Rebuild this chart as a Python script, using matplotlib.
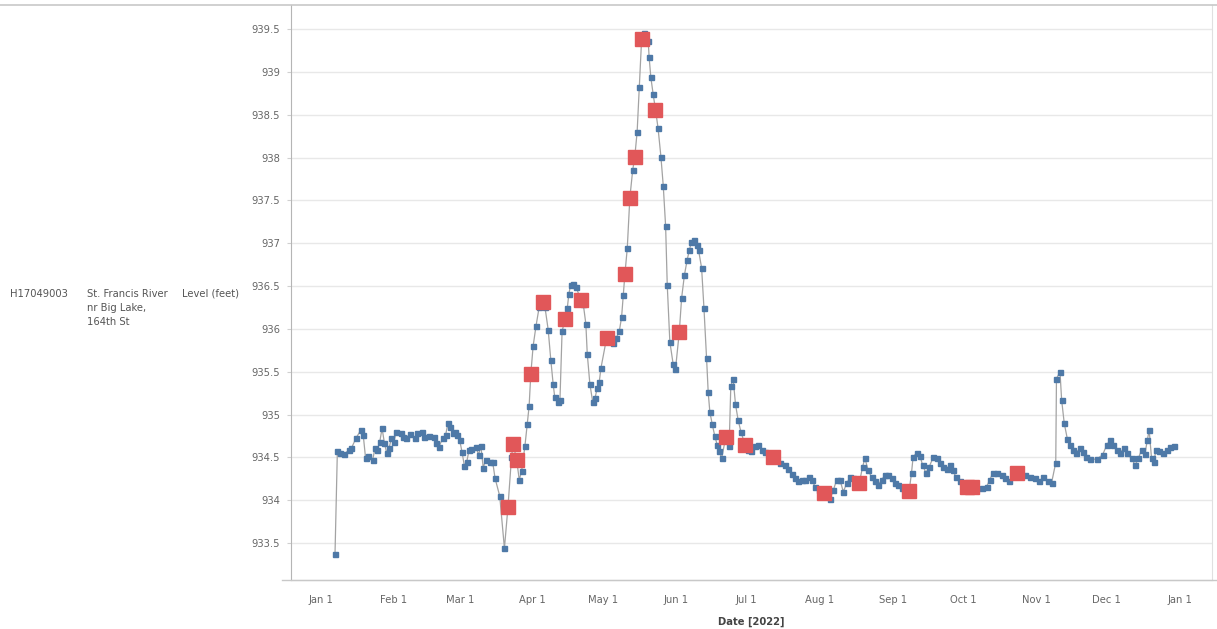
import datetime as dt
import matplotlib
matplotlib.use("Agg")
import matplotlib.pyplot as plt
import matplotlib.dates as mdates
from matplotlib.lines import Line2D
import numpy as np

plt.rcParams['font.family'] = ['DejaVu Sans']

# ---- data (day offset from 2022-01-01, level in feet) ----
level_days = [6, 7, 8, 10, 12, 13, 15, 17, 18, 19, 20, 22, 23, 24, 25, 26, 27, 28, 29, 30, 31,
              32, 34, 35, 36, 38, 40, 41, 43, 44, 46, 48, 49, 50, 52, 53, 54, 55, 56, 57, 58, 59,
              60, 61, 62, 63, 64, 66, 67, 68, 69, 70, 72, 73, 74, 76, 78,
              81, 84.3, 85.3, 86.7, 87.7, 88.5, 90.2, 91.4, 92.8, 95.2, 96.6, 97.7, 98.7, 99.4,
              100.8, 101.6, 102.5, 104.7, 105.4, 106.1, 107.2, 108.4, 111.5, 112.6, 113.2, 114.3,
              115.5, 116.5, 117.4, 118.3, 119.0, 124.0, 125.4, 126.8, 127.8, 128.5, 130.2, 132.5,
              134.4, 135.3, 137.3, 139.1, 139.5, 140.2, 141.2, 143.3, 144.5, 145.5, 146.5, 147.2,
              148.3, 149.7, 150.7, 153.3, 154.5, 155.7, 156.6, 157.5, 158.7, 159.7, 160.5, 161.8,
              162.8, 163.9, 164.6, 165.3, 166.3, 167.4, 168.4, 169.3, 170.3, 173.5, 174.2, 175.2,
              176.2, 177.3, 178.5, 181.6, 182.7, 184.4, 185.8, 187.3, 188.8, 190.4, 195.1, 197.2,
              198.6, 200.0, 201.4, 202.9, 204.3, 205.7, 207.5, 208.6, 210.0, 211.8, 215.0, 216.4,
              217.8, 219.2, 220.6, 222.0, 223.5, 224.9, 226.3, 230.2, 231.2, 232.6, 234.0, 235.4,
              236.8, 238.3, 239.7, 241.1, 242.5, 243.9, 245.3, 246.8, 248.4, 251.0, 251.7, 253.2,
              254.6, 255.7, 257.1, 258.5, 260.2, 261.7, 263.1, 264.5, 265.9, 267.3, 268.5, 269.9,
              271.6, 278.5, 280.8, 282.9, 284.3, 285.5, 287.2, 289.3, 290.7, 292.5, 299.2, 301.3,
              303.4, 305.3, 307.0, 309.1, 310.5, 312.3, 312.6, 314.1, 314.8, 315.9, 317.2, 318.3,
              319.5, 320.9, 322.6, 323.7, 325.1, 326.8, 329.7, 332.2, 333.9, 335.3, 336.7, 338.2,
              339.6, 341.3, 342.4, 344.5, 346.0, 347.4, 348.8, 350.2, 351.2, 352.0, 353.0, 354.0,
              354.9, 356.3, 358.0, 359.5, 360.9, 362.6]
level_vals = [933.37, 934.57, 934.55, 934.54, 934.59, 934.61, 934.73, 934.82, 934.76, 934.49, 934.52,
              934.47, 934.61, 934.59, 934.68, 934.84, 934.67, 934.55, 934.61, 934.73, 934.68,
              934.80, 934.79, 934.74, 934.73, 934.77, 934.73, 934.79, 934.80, 934.74, 934.75,
              934.74, 934.67, 934.62, 934.73, 934.76, 934.90, 934.86, 934.79, 934.80, 934.76,
              934.70, 934.56, 934.40, 934.45, 934.59, 934.60, 934.62, 934.53, 934.63, 934.38,
              934.47, 934.45, 934.45, 934.26, 934.05, 933.44,
              934.50, 934.24, 934.34, 934.63, 934.89, 935.10, 935.80, 936.03, 936.26, 936.26,
              935.99, 935.64, 935.36, 935.20, 935.15, 935.17, 935.97, 936.24, 936.41, 936.51,
              936.53, 936.49, 936.29, 936.06, 935.71, 935.36, 935.15, 935.19, 935.31, 935.38,
              935.54, 935.84, 935.89, 935.97, 936.14, 936.39, 936.94, 937.85, 938.30, 938.82,
              939.45, 939.36, 939.17, 938.94, 938.74, 938.34, 938.01, 937.67, 937.20, 936.51,
              935.85, 935.59, 935.53, 936.36, 936.63, 936.81, 936.92, 937.02, 937.04, 936.98,
              936.92, 936.71, 936.24, 935.66, 935.26, 935.03, 934.89, 934.75, 934.65, 934.57,
              934.49, 934.63, 935.33, 935.42, 935.12, 934.94, 934.80, 934.59, 934.57, 934.63,
              934.65, 934.59, 934.56, 934.53, 934.43, 934.41, 934.37, 934.31, 934.26, 934.22,
              934.24, 934.24, 934.27, 934.24, 934.16, 934.12, 934.06, 934.02, 934.12, 934.24,
              934.24, 934.10, 934.20, 934.27, 934.26, 934.39, 934.49, 934.35, 934.27, 934.22,
              934.18, 934.24, 934.29, 934.29, 934.26, 934.20, 934.18, 934.14, 934.13, 934.32,
              934.51, 934.55, 934.52, 934.41, 934.32, 934.39, 934.50, 934.49, 934.43, 934.39,
              934.37, 934.41, 934.35, 934.27, 934.22, 934.13, 934.14, 934.16, 934.24, 934.32,
              934.32, 934.29, 934.26, 934.23, 934.29, 934.27, 934.26, 934.22, 934.27, 934.22,
              934.20, 934.44, 935.42, 935.50, 935.17, 934.90, 934.72, 934.64, 934.59, 934.55,
              934.61, 934.56, 934.50, 934.48, 934.48, 934.53, 934.64, 934.70, 934.64, 934.59,
              934.55, 934.61, 934.55, 934.49, 934.41, 934.49, 934.59, 934.54, 934.70, 934.82,
              934.49, 934.45, 934.59, 934.57, 934.55, 934.59, 934.62, 934.63]

sample_days = [79.5, 81.7, 83.2, 89.2, 94.5, 103.7, 110.5, 121.4, 129.2, 131.3, 133.4, 136.3,
               142.2, 152.3, 172.1, 180.2, 192.2, 213.6, 228.8, 250.0, 274.6, 276.5, 295.9]
sample_vals = [933.92, 934.66, 934.47, 935.47, 936.31, 936.11, 936.34, 935.89, 936.64, 937.53,
               938.01, 939.38, 938.56, 935.96, 934.74, 934.65, 934.51, 934.09, 934.20, 934.11,
               934.16, 934.16, 934.32]

y_ticks = [933.5, 934, 934.5, 935, 935.5, 936, 936.5, 937, 937.5, 938, 938.5, 939, 939.5]
month_labels = ["Jan 1", "Feb 1", "Mar 1", "Apr 1", "May 1", "Jun 1", "Jul 1", "Aug 1",
                "Sep 1", "Oct 1", "Nov 1", "Dec 1", "Jan 1"]

# ---- build ----
base = mdates.date2num(dt.datetime(2022, 1, 1))
ld = base + np.array(level_days)
lv = np.array(level_vals)
sd = base + np.array(sample_days)
sv = np.array(sample_vals)

all_d = np.concatenate([ld, sd])
all_v = np.concatenate([lv, sv])
order = np.argsort(all_d, kind="stable")

fig = plt.figure(figsize=(12.17, 6.29), dpi=100)
ax = fig.add_axes([291 / 1217, 49 / 629, 921 / 1217, 575 / 629])

ax.plot(all_d[order], all_v[order], color="#a3a3a3", lw=0.9, zorder=2)
ax.plot(ld, lv, ls="none", marker="s", ms=3.6, color="#4e79a7", mec="#4e79a7", zorder=3)
ax.plot(sd, sv, ls="none", marker="s", ms=10, color="#e15759", mec="#e15759", zorder=4)

month_ticks = [mdates.date2num(dt.datetime(2022 + (m // 12), m % 12 + 1, 1)) for m in range(13)]
ax.set_xticks(month_ticks)
ax.set_xticklabels(month_labels)
ax.set_xlim(base - 12.7, base + 378.7)

ax.set_yticks(y_ticks)
ax.set_yticklabels([("%g" % t) for t in y_ticks])
ax.set_ylim(933.07, 939.78)

ax.grid(axis="y", color="#e8e8e8", lw=1)
ax.grid(axis="x", visible=False)
ax.set_axisbelow(True)

ax.spines["top"].set_visible(False)
ax.spines["right"].set_color("#e0e0e0")
ax.spines["left"].set_color("#b5b5b5")
ax.spines["bottom"].set_color("#b5b5b5")

ax.tick_params(axis="y", length=3, color="#d0d0d0", labelsize=7.2, labelcolor="#666666", pad=5)
ax.tick_params(axis="x", length=0, labelsize=7.2, labelcolor="#666666", pad=11)

ax.set_xlabel("Date [2022]", fontsize=7.2, color="#444444", fontweight="bold", labelpad=8)

# top and bottom full-width rules
fig.add_artist(Line2D([0, 1], [1 - 5 / 629, 1 - 5 / 629], transform=fig.transFigure,
                      color="#c8c8c8", lw=1.2))
fig.add_artist(Line2D([282 / 1217, 1], [49 / 629, 49 / 629], transform=fig.transFigure,
                      color="#c8c8c8", lw=1.0))

# row header
hy = 1 - 289 / 629
kw = dict(fontsize=7.2, color="#555555", va="top", ha="left", linespacing=1.5)
fig.text(10 / 1217, hy, "H17049003", **kw)
fig.text(87 / 1217, hy, "St. Francis River\nnr Big Lake,\n164th St", **kw)
fig.text(182 / 1217, hy, "Level (feet)", **kw)

fig.savefig("out.png", dpi=100)
